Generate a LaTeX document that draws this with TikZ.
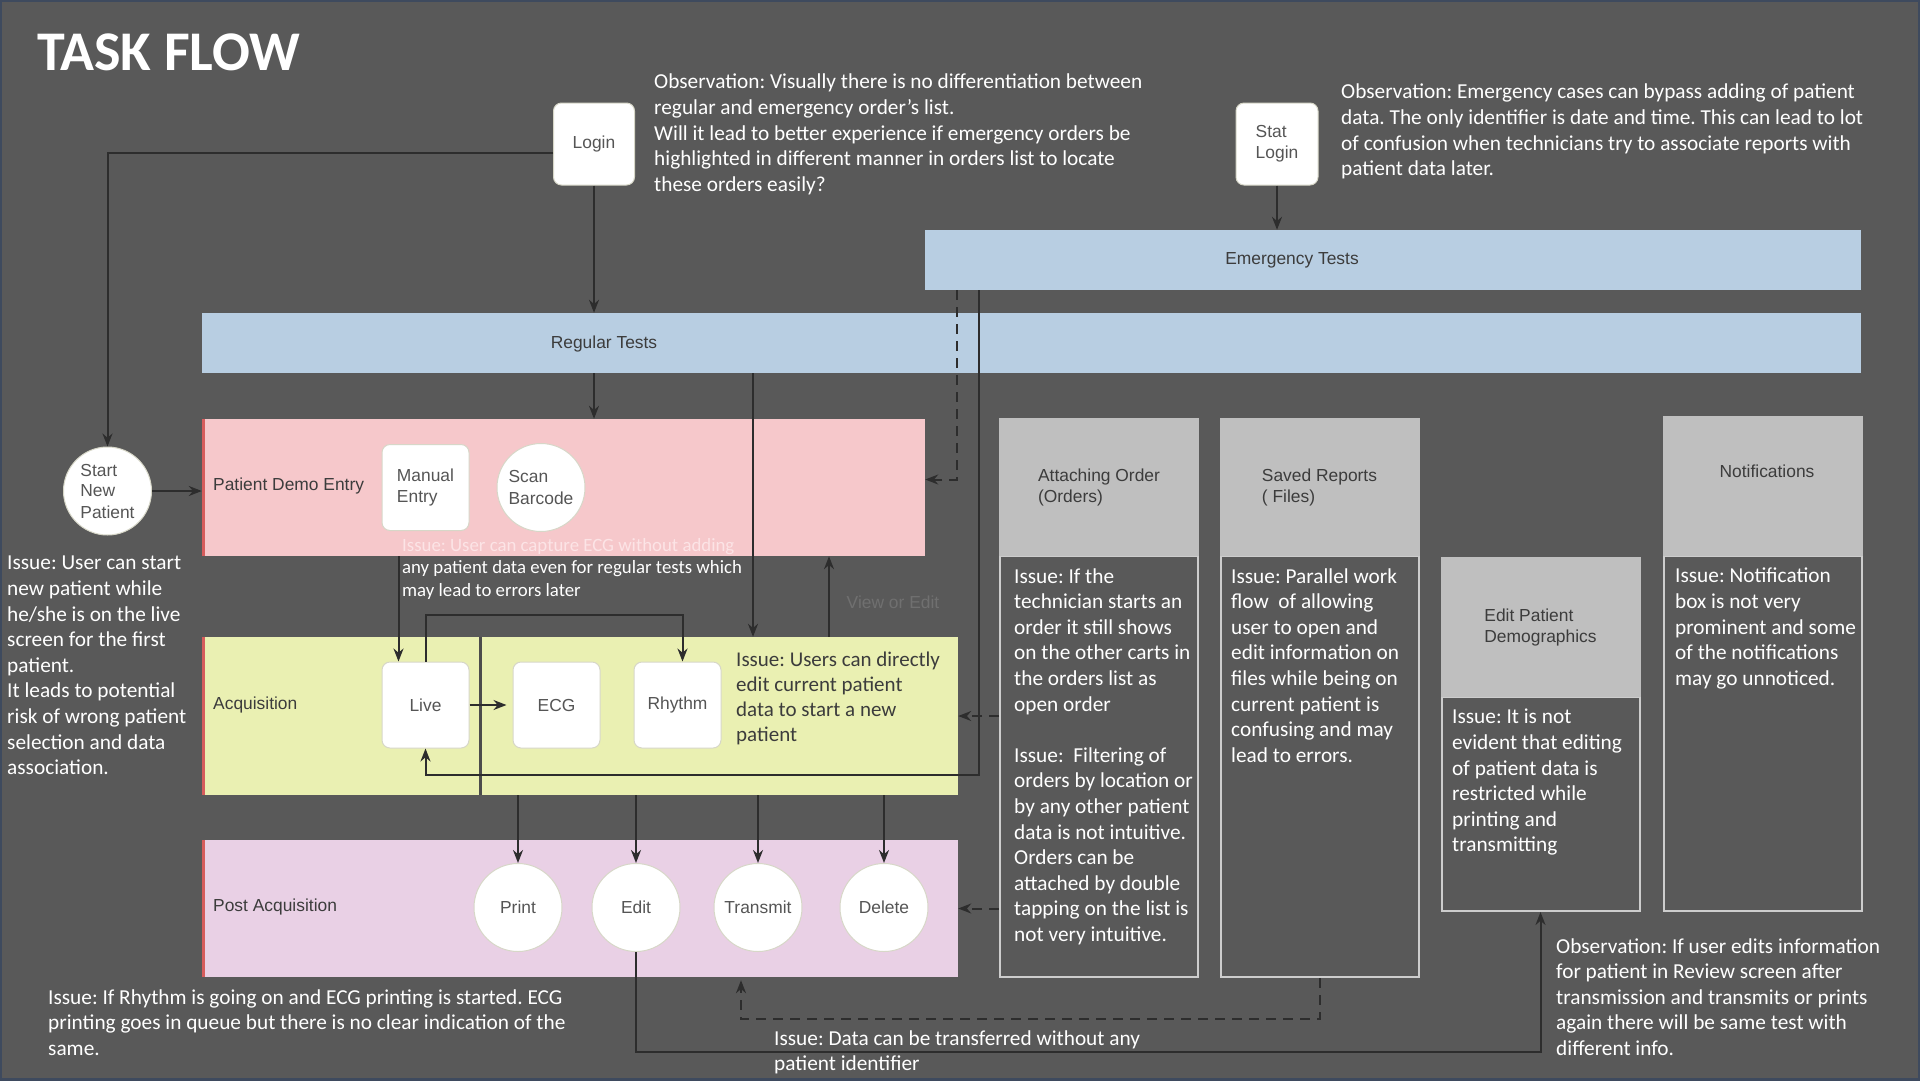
\documentclass[tikz,border=0pt]{standalone}
\usepackage{fontspec}
\setmainfont{Carlito}
\newfontfamily\boxfont{Liberation Sans}
\usetikzlibrary{arrows.meta}
\frenchspacing

\definecolor{bggray}{RGB}{89,89,89}
\definecolor{framecol}{RGB}{62,74,94}
\definecolor{barblue}{RGB}{184,206,226}
\definecolor{demopink}{RGB}{246,200,203}
\definecolor{acqyellow}{RGB}{234,240,178}
\definecolor{postpurple}{RGB}{233,208,229}
\definecolor{lanered}{RGB}{214,92,92}
\definecolor{hdrgray}{RGB}{191,191,191}
\definecolor{bodyedge}{RGB}{205,205,205}
\definecolor{boxedge}{RGB}{215,215,200}
\definecolor{boxtext}{RGB}{85,85,85}
\definecolor{lanetext}{RGB}{60,60,60}
\definecolor{linegray}{RGB}{45,45,45}
\definecolor{fainttext}{RGB}{112,112,112}
\definecolor{palepink}{RGB}{252,228,230}

\tikzset{
  arr/.style={draw=linegray, line width=2pt, -{Stealth[length=13pt,width=10pt]}},
  dasharr/.style={arr, dash pattern=on 10pt off 7pt},
  bar/.style={rectangle, fill=barblue, inner sep=0pt},
  barlbl/.style={inner sep=0pt, font=\boxfont\fontsize{17.4}{21}\selectfont, text=lanetext},
  lane/.style={rectangle, inner sep=0pt},
  lanelbl/.style={anchor=west, inner sep=0pt, font=\boxfont\fontsize{17.4}{21}\selectfont, text=lanetext},
  box/.style={rectangle, rounded corners=8pt, fill=white, draw=boxedge, line width=1pt,
    minimum width=87pt, minimum height=86pt, inner sep=0pt, align=left,
    font=\boxfont\fontsize{17.4}{21}\selectfont, text=boxtext},
  disc/.style={circle, fill=white, draw=boxedge, line width=1pt, minimum size=88pt,
    inner sep=0pt, align=left, font=\boxfont\fontsize{17.4}{21}\selectfont, text=boxtext},
  hdr/.style={rectangle, fill=hdrgray, minimum width=200pt, inner sep=0pt, align=left,
    font=\boxfont\fontsize{17.4}{21}\selectfont, text=lanetext},
  body/.style={rectangle, fill=bggray, draw=bodyedge, line width=2pt, minimum width=198pt, inner sep=0pt},
  note/.style={anchor=north west, inner sep=0pt, align=left, text=white,
    font=\fontsize{21.3}{25.6}\selectfont},
}

\begin{document}
\begin{tikzpicture}[x=1pt, y=-1pt]
  \useasboundingbox (0,0) rectangle (1920,1080);
  \fill[bggray] (0,0) rectangle (1920,1080);
  \draw[framecol, line width=4pt] (0,0) rectangle (1920,1080);

  \node[anchor=west, inner sep=0pt, text=white, font=\bfseries\fontsize{56}{60}\selectfont] (title) at (37,52) {TASK FLOW};

  % logins
  \node[box, minimum width=81pt, minimum height=82pt] (login) at (594,144) {Login};
  \node[box, minimum width=82pt, minimum height=82pt] (stat) at (1277,144) {Stat\\Login};

  % test bars
  \node[bar, minimum width=936pt, minimum height=60pt] (emerg) at (1393,260) {};
  \node[barlbl] (emerglbl) at (1292,260) {Emergency Tests};
  \node[bar, minimum width=1659pt, minimum height=60pt] (regular) at (1031.5,343) {};
  \node[barlbl] (regularlbl) at (604,344) {Regular Tests};

  % lanes
  \node[lane, fill=demopink, minimum width=723pt, minimum height=137pt] (demo) at (563.5,487.5) {};
  \node[lane, fill=acqyellow, minimum width=756pt, minimum height=158pt] (acq) at (580,716) {};
  \node[lane, fill=postpurple, minimum width=756pt, minimum height=137pt] (post) at (580,908.5) {};
  \foreach \l in {demo,acq,post}
    \draw[lanered, line width=3pt] ([xshift=1.5pt]\l.north west) -- ([xshift=1.5pt]\l.south west);
  \draw[bggray!85!black, line width=3pt] ([xshift=279pt]acq.north west) -- ([xshift=279pt]acq.south west);
  \node[lanelbl] (demolbl) at (213,486) {Patient Demo Entry};
  \node[lanelbl] (acqlbl) at (213,705) {Acquisition};
  \node[lanelbl] (postlbl) at (213,907) {Post Acquisition};

  \node[disc] (start) at (107.5,491) {Start\\New\\Patient};
  \node[box] (manual) at (425.5,487.5) {Manual\\Entry};
  \node[disc] (scan) at (541,487.5) {Scan\\Barcode};

  \node[box] (live) at (425.5,705) {Live};
  \node[box] (ecg) at (556.5,705) {ECG};
  \node[box] (rhythm) at (677.5,705) {Rhythm};

  \node[disc] (print) at (518,907.5) {Print};
  \node[disc] (edit) at (636,907.5) {Edit};
  \node[disc] (transmit) at (758,907.5) {Transmit};
  \node[disc] (delete) at (884,907.5) {Delete};

  % right hand screens
  \node[body, minimum height=421pt] (atbody) at (1099,766.5) {};
  \node[hdr, minimum height=138pt] (athead) at (1099,487) {Attaching Order\\(Orders)};
  \node[body, minimum height=421pt] (svbody) at (1319.5,766.5) {};
  \node[hdr, minimum height=138pt] (svhead) at (1319.5,487) {Saved Reports\\( Files)};
  \node[body, minimum height=214pt] (epbody) at (1540.5,804) {};
  \node[hdr, minimum height=140pt] (ephead) at (1540.5,627) {Edit Patient\\Demographics};
  \node[body, minimum height=355pt] (ntbody) at (1762.5,733.5) {};
  \node[hdr, minimum height=140pt] (nthead) at (1762.5,486) {};
  \node[barlbl] (ntlbl) at (1767,471) {Notifications};

  % notes
  \node[note] (obs1) at (654,74) {Observation: Visually there is no differentiation between\\regular and emergency order’s list.\\Will it lead to better experience if emergency orders be\\highlighted in different manner in orders list to locate\\these orders easily?};
  \node[note] (obs2) at (1341,84) {Observation: Emergency cases can bypass adding of patient\\data. The only identifier is date and time. This can lead to lot\\of confusion when technicians try to associate reports with\\patient data later.};
  \node[note] (leftissue) at (7,556) {Issue: User can start\\new patient while\\he/she is on the live\\screen for the first\\patient.\\It leads to potential\\risk of wrong patient\\selection and data\\association.};
  \node[note, font=\fontsize{18.8}{22.7}\selectfont] (pinkissue) at (402,538) {\textcolor{palepink}{Issue: User can capture ECG without adding}\\any patient data even for regular tests which\\may lead to errors later};
  \node[note, text=lanetext, font=\fontsize{21}{25}\selectfont] (acqissue) at (736,652) {Issue: Users can directly\\edit current patient\\data to start a new\\patient};
  \node[barlbl, text=fainttext] (viewedit) at (893,602) {View or Edit};
  \node[note] (atissue) at (1014,568) {Issue: If the\\technician starts an\\order it still shows\\on the other carts in\\the orders list as\\open order\\[25.6pt]Issue:\ \ Filtering of\\orders by location or\\by any other patient\\data is not intuitive.\\Orders can be\\attached by double\\tapping on the list is\\not very intuitive.};
  \node[note] (svissue) at (1231,568) {Issue: Parallel work\\flow\ \ of allowing\\user to open and\\edit information on\\files while being on\\current patient is\\confusing and may\\lead to errors.};
  \node[note] (epissue) at (1452,709) {Issue: It is not\\evident that editing\\of patient data is\\restricted while\\printing and\\transmitting};
  \node[note] (ntissue) at (1675,568) {Issue: Notification\\box is not very\\prominent and some\\of the notifications\\may go unnoticed.};
  \node[note] (obs3) at (1556,938) {Observation: If user edits information\\for patient in Review screen after\\transmission and transmits or prints\\again there will be same test with\\different info.};
  \node[note] (rhyissue) at (48,989) {Issue: If Rhythm is going on and ECG printing is started. ECG\\printing goes in queue but there is no clear indication of the\\same.};
  \node[note] (dataissue) at (774,1030) {Issue: Data can be transferred without any\\patient identifier};

  % helper coordinates
  \coordinate (xreg) at (753,0);
  \coordinate (xview) at (829,0);
  \coordinate (xemdash) at (957,0);
  \coordinate (xemline) at (979,0);
  \coordinate (xpost) at (741,0);
  \coordinate (yback) at (0,775);
  \coordinate (ydash) at (0,1019);
  \coordinate (yedit) at (0,1052);

  % connectors
  \draw[arr] (login) -- (login |- regular.north);
  \draw[arr] ([yshift=-9pt]login.west) -| (start.north);
  \draw[arr] (stat) -- (stat |- emerg.north);
  \draw[arr] (start) -- (start -| demo.west);
  \draw[arr] (login |- regular.south) -- (login |- demo.north);
  \draw[arr] (xreg |- regular.south) -- (xreg |- acq.north);
  \draw[arr] (xview |- acq.north) -- (xview |- demo.south);
  \draw[dasharr] (xemdash |- emerg.south) |- ([yshift=8pt]demo.east);
  \draw[arr] (xemline |- emerg.south) -- (xemline |- yback) -- (live.south |- yback) -- (live.south);
  \draw[arr] ([xshift=-27pt]live.north |- demo.south) -- ([xshift=-27pt]live.north);
  \draw[arr] (live.north) -- ++(0,-47) -| ([xshift=5pt]rhythm.north);
  \draw[arr, shorten >=6pt] (live.east) -- (ecg.west);
  \foreach \n in {print,edit,transmit,delete}
    \draw[arr] (\n.north |- acq.south) -- (\n.north);
  \draw[dasharr] (atbody.west |- acq.east) -- (acq.east);
  \draw[dasharr] (atbody.west |- post.east) -- (post.east);
  \draw[dasharr] (svbody.south) -- (svbody.south |- ydash) -| ([yshift=-3pt]xpost |- post.south);
  \draw[arr] (edit.south) -- (edit.south |- yedit) -| (epbody.south);
\end{tikzpicture}
\end{document}
